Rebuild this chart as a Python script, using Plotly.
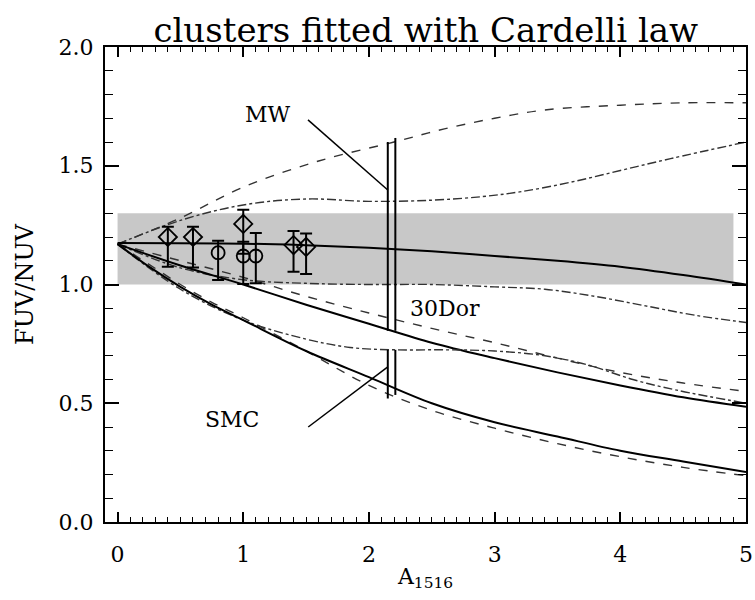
import plotly.graph_objects as go

# ---- model curves: FUV/NUV colour versus A1516 ----
a_up_dash = [0, 0.5, 1.0, 1.6, 2.2, 2.6, 3.0, 3.4, 4.0, 4.5, 5.0]
r_up_dash = [1.17, 1.28, 1.41, 1.52, 1.60, 1.655, 1.70, 1.735, 1.755, 1.765, 1.765]

a_up_dd = [0, 0.5, 1.0, 1.5, 2.0, 2.5, 2.9, 3.2, 3.6, 4.0, 4.4, 5.0]
r_up_dd = [1.17, 1.27, 1.335, 1.36, 1.35, 1.355, 1.37, 1.39, 1.43, 1.48, 1.53, 1.60]

a_flat = [0, 1.0, 1.5, 2.0, 2.5, 3.0, 3.5, 4.0, 4.5, 5.0]
r_flat = [1.175, 1.172, 1.165, 1.155, 1.14, 1.12, 1.10, 1.075, 1.04, 1.0]

a_mid = [0, 0.5, 1.0, 1.5, 2.0, 2.5, 3.0, 3.5, 4.0, 4.5, 5.0]
r_mid_solid = [1.17, 1.08, 1.0, 0.915, 0.835, 0.755, 0.69, 0.63, 0.575, 0.525, 0.485]
r_mid_dash = [1.17, 1.10, 1.03, 0.95, 0.88, 0.815, 0.755, 0.69, 0.63, 0.585, 0.55]

a_mid_dd = [0, 0.5, 1.0, 1.5, 2.0, 2.5, 3.0, 3.4, 3.8, 4.2, 4.6, 5.0]
r_mid_dd = [1.17, 1.07, 1.02, 1.005, 1.0, 1.0, 0.99, 0.98, 0.95, 0.91, 0.87, 0.84]

a_low_dd = [0, 0.5, 1.0, 1.5, 1.85, 2.2, 2.6, 3.0, 3.4, 3.75, 4.1, 4.45, 5.0]
r_low_dd = [1.17, 0.98, 0.85, 0.77, 0.735, 0.725, 0.725, 0.72, 0.70, 0.66, 0.60, 0.555, 0.50]

a_low = [0, 0.25, 0.5, 0.75, 1.0, 1.5, 2.0, 2.5, 3.0, 3.5, 4.0, 4.5, 5.0]
r_low_solid = [1.17, 1.075, 0.99, 0.915, 0.85, 0.72, 0.61, 0.50, 0.42, 0.36, 0.30, 0.255, 0.21]
r_low_dash = [1.17, 1.085, 1.0, 0.925, 0.86, 0.72, 0.575, 0.47, 0.395, 0.33, 0.275, 0.23, 0.195]

# ---- clusters ----
diam_a = [0.4, 0.6, 1.0, 1.4, 1.5]
diam_r = [1.20, 1.20, 1.255, 1.166, 1.158]
diam_ep = [0.043, 0.043, 0.06, 0.059, 0.057]
diam_em = [0.125, 0.128, 0.125, 0.112, 0.114]

circ_a = [0.8, 1.0, 1.1]
circ_r = [1.134, 1.12, 1.12]
circ_ep = [0.05, 0.06, 0.097]
circ_em = [0.115, 0.118, 0.115]

# observed colour band
band_a = [0.0, 4.9]
band_r = [1.0, 1.3]

# ranges at A1516 = 2.2 (pair of vertical rules)
rule_a = [2.15, 2.21]
rule_upper = [[1.60, 0.805], [1.617, 0.805]]
rule_lower = [[0.725, 0.52], [0.725, 0.535]]

# label pointers
mw_ptr_a = [1.515, 2.15]
mw_ptr_r = [1.693, 1.398]
smc_ptr_a = [1.517, 2.15]
smc_ptr_r = [0.40, 0.653]

labels = ["MW", "30Dor", "SMC"]
label_a = [1.2, 2.31, 0.91]
label_r = [1.715, 0.90, 0.43]

SERIF = "DejaVu Serif"
fig = go.Figure()

fig.add_shape(type="rect", x0=band_a[0], x1=band_a[1], y0=band_r[0], y1=band_r[1],
              fillcolor="#c8c8c8", line_width=0, layer="below")

def curve(x, y, dash, width, color):
    fig.add_trace(go.Scatter(x=x, y=y, mode="lines", line_shape="spline",
                             line=dict(color=color, width=width, dash=dash),
                             hoverinfo="skip", showlegend=False))

curve(a_up_dash, r_up_dash, "dash", 1.4, "#333")
curve(a_up_dd, r_up_dd, "dashdot", 1.4, "#333")
curve(a_flat, r_flat, "solid", 2, "black")
curve(a_mid, r_mid_dash, "dash", 1.4, "#333")
curve(a_mid_dd, r_mid_dd, "dashdot", 1.4, "#333")
curve(a_mid, r_mid_solid, "solid", 2, "black")
curve(a_low_dd, r_low_dd, "dashdot", 1.4, "#333")
curve(a_low, r_low_dash, "dash", 1.4, "#333")
curve(a_low, r_low_solid, "solid", 2, "black")

# vertical range rules
for i, xa in enumerate(rule_a):
    for seg in (rule_upper[i], rule_lower[i]):
        fig.add_trace(go.Scatter(x=[xa, xa], y=seg, mode="lines",
                                 line=dict(color="black", width=2),
                                 hoverinfo="skip", showlegend=False))

# pointers
for px_, py_ in ((mw_ptr_a, mw_ptr_r), (smc_ptr_a, smc_ptr_r)):
    fig.add_trace(go.Scatter(x=px_, y=py_, mode="lines",
                             line=dict(color="black", width=1.5),
                             hoverinfo="skip", showlegend=False))

# cluster points
fig.add_trace(go.Scatter(
    x=diam_a, y=diam_r, mode="markers",
    marker=dict(symbol="diamond-open", size=14, color="black", line=dict(width=1.8)),
    error_y=dict(type="data", symmetric=False, array=diam_ep, arrayminus=diam_em,
                 color="black", thickness=2, width=6),
    showlegend=False))
fig.add_trace(go.Scatter(
    x=circ_a, y=circ_r, mode="markers",
    marker=dict(symbol="circle-open", size=13, color="black", line=dict(width=1.8)),
    error_y=dict(type="data", symmetric=False, array=circ_ep, arrayminus=circ_em,
                 color="black", thickness=2, width=6),
    showlegend=False))

for t, xa, ya in zip(labels, label_a, label_r):
    fig.add_annotation(x=xa, y=ya, text=t, showarrow=False,
                       xanchor="left" if t == "30Dor" else "center",
                       font=dict(family=SERIF, size=22, color="black"))

axis_common = dict(showline=True, linecolor="black", linewidth=2, mirror="allticks",
                   ticks="inside", tickcolor="black", tickwidth=1.5,
                   showgrid=False, zeroline=False,
                   tickfont=dict(family=SERIF, size=22, color="black"))

fig.update_xaxes(range=[-0.1, 5.0], tick0=0, dtick=1, ticklen=10,
                 minor=dict(dtick=0.1, tick0=0, ticks="inside", ticklen=5,
                            tickcolor="black", tickwidth=1.2),
                 ticklabelstandoff=12,
                 title=dict(text="A<sub>1516</sub>", standoff=2,
                            font=dict(family=SERIF, size=22, color="black")),
                 **axis_common)
fig.update_yaxes(range=[0, 2.0], tick0=0, dtick=0.5, ticklen=14, tickformat=".1f",
                 minor=dict(dtick=0.1, tick0=0, ticks="inside", ticklen=8,
                            tickcolor="black", tickwidth=1.2),
                 ticklabelstandoff=5,
                 title=dict(text="FUV/NUV", standoff=18,
                            font=dict(family=SERIF, size=24, color="black")),
                 **axis_common)

fig.update_layout(
    width=755, height=600,
    margin=dict(l=105, r=9, t=47, b=78, autoexpand=False),
    paper_bgcolor="white", plot_bgcolor="white",
    title=dict(text="clusters fitted with Cardelli law", x=0.564, xanchor="center",
               y=0.95, yanchor="middle",
               font=dict(family=SERIF, size=34, color="black")),
)

fig.write_html("out.html")
